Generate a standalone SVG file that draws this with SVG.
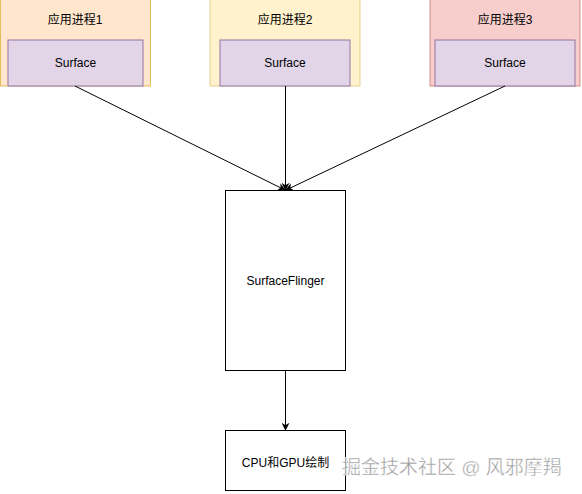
<svg xmlns="http://www.w3.org/2000/svg" width="582" height="494" viewBox="0 0 582 494">
<style>
text{font-family:"Liberation Sans","Noto Sans CJK SC",sans-serif;font-size:12px;fill:#000;text-anchor:middle;dominant-baseline:central}
.inner{fill:#e1d5e7;stroke:#9673a6;stroke-width:1}
.outer{stroke-width:1;stroke-opacity:0.6}
.box{fill:#fff;stroke:#000;stroke-width:1}
.conn{stroke:#000;stroke-width:1;fill:none;marker-end:url(#arr)}
.wm{font-size:19px;fill:#999;stroke:#fff;stroke-width:0.4;text-anchor:start}
</style>
<defs>
<marker id="arr" viewBox="0 0 10 10" refX="9" refY="5" markerWidth="8" markerHeight="8" orient="auto" markerUnits="userSpaceOnUse">
<path d="M0,0 L10,5 L0,10 L3,5 Z" fill="#000"/>
</marker>
</defs>
<rect width="582" height="494" fill="#fff"/>
<g id="proc1">
<rect class="outer" x="0.5" y="-1" width="150" height="87" fill="#ffe6cc" stroke="#d79b00"/>
<text x="75" y="20">应用进程1</text>
<g id="surface1"><rect class="inner" x="8" y="40" width="135" height="46"/><text x="75.5" y="63">Surface</text></g>
</g>
<g id="proc2">
<rect class="outer" x="210" y="-1" width="150" height="87" fill="#fff2cc" stroke="#d6b656"/>
<text x="285" y="20">应用进程2</text>
<g id="surface2"><rect class="inner" x="220" y="40" width="130" height="46"/><text x="285" y="63">Surface</text></g>
</g>
<g id="proc3">
<rect class="outer" x="430" y="-1" width="150" height="87" fill="#f8cecc" stroke="#b85450"/>
<text x="505" y="20">应用进程3</text>
<g id="surface3"><rect class="inner" x="435" y="40" width="140" height="46"/><text x="505" y="63">Surface</text></g>
</g>
<g id="sf">
<rect class="box" x="225.5" y="190.5" width="120" height="180"/>
<text x="285.5" y="281">SurfaceFlinger</text>
</g>
<g id="gpu">
<rect class="box" x="225.5" y="430.5" width="120" height="60"/>
<text x="285.5" y="463">CPU和GPU绘制</text>
</g>
<g id="connectors">
<path class="conn" d="M75,86 L285,190"/>
<path class="conn" d="M285.5,86 L285.5,190"/>
<path class="conn" d="M505,86 L286,190"/>
<path class="conn" d="M285.5,371 L285.5,430"/>
</g>
<text class="wm" x="342" y="467">掘金技术社区 @ 风邪摩羯</text>
</svg>
